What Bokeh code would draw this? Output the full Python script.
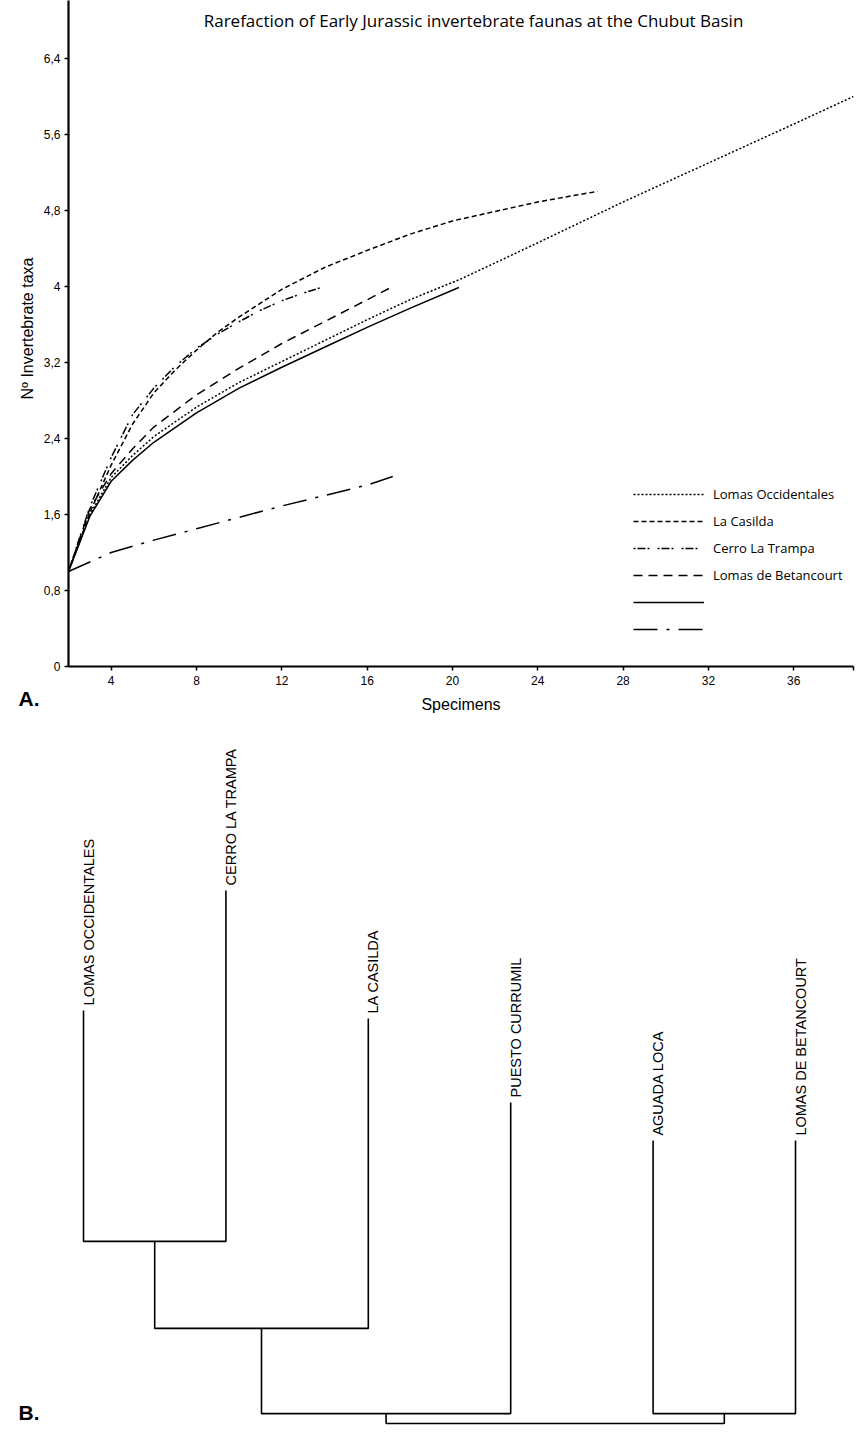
import math
from bokeh.plotting import figure
from bokeh.models import (Range1d, FixedTicker, CustomJSTickFormatter, Legend,
                          LegendItem, Label)
from bokeh.layouts import column, row
from bokeh.embed import file_html
from bokeh.resources import INLINE
from bokeh.core.properties import value

# ---------------- data: rarefaction curves ----------------
lo_x = [2, 3, 4, 5, 6, 8, 10, 12, 14, 16, 18, 20.4, 24, 28, 32, 36, 38.8]
lo_y = [1.0, 1.6, 1.99, 2.22, 2.42, 2.73, 2.99, 3.21, 3.43, 3.65, 3.86, 4.08, 4.46, 4.89, 5.3, 5.71, 6.0]

lc_x = [2, 3, 4, 5, 6, 7, 8, 9, 10, 12, 14, 16, 18, 20, 22, 24, 26, 26.8]
lc_y = [1.0, 1.62, 2.12, 2.55, 2.88, 3.12, 3.33, 3.52, 3.68, 3.97, 4.2, 4.38, 4.55, 4.69, 4.79, 4.89, 4.97, 5.0]

ct_x = [2, 3, 4, 5, 6, 7, 8, 9, 10, 11, 12, 13, 14]
ct_y = [1.0, 1.68, 2.2, 2.65, 2.93, 3.16, 3.35, 3.5, 3.63, 3.75, 3.85, 3.93, 4.0]

lb_x = [2, 3, 4, 5, 6, 8, 10, 12, 14, 16, 17.2]
lb_y = [1.0, 1.66, 2.03, 2.29, 2.52, 2.86, 3.14, 3.4, 3.63, 3.86, 4.0]

so_x = [2, 3, 4, 5, 6, 8, 10, 12, 14, 16, 18, 20.3]
so_y = [1.0, 1.58, 1.95, 2.17, 2.36, 2.67, 2.93, 3.15, 3.36, 3.57, 3.77, 3.99]

dd_x = [2, 3, 4, 6, 8, 10, 12, 14, 16, 17.2]
dd_y = [1.0, 1.1, 1.2, 1.33, 1.45, 1.57, 1.69, 1.8, 1.91, 2.0]

series_names = ["Lomas Occidentales", "La Casilda", "Cerro La Trampa",
                "Lomas de Betancourt", " ", " "]
y_ticks = [0, 0.8, 1.6, 2.4, 3.2, 4.0, 4.8, 5.6, 6.4]
x_ticks = [4, 8, 12, 16, 20, 24, 28, 32, 36]
X_START, X_END = 2, 38.8
Y_END = 7.0105

# ---------------- data: dendrogram ----------------
leaf_names = ["LOMAS OCCIDENTALES", "CERRO LA TRAMPA", "LA CASILDA",
              "PUESTO CURRUMIL", "AGUADA LOCA", "LOMAS DE BETANCOURT"]
leaf_tops = [1.377, 1.777, 1.35, 1.07, 0.943, 0.943]
# (child a, child b, height); ids >= 6 are previous merges
merges = [(0, 1, 0.607), (6, 2, 0.317), (7, 3, 0.033), (4, 5, 0.033), (8, 9, 0.0)]

# ---------------- left strip (y-axis title and panel letter A) ----------------
s = figure(width=40, height=720, output_backend="svg", toolbar_location=None,
           x_range=Range1d(0, 40), y_range=Range1d(0, 720), min_border=0,
           x_axis_location=None, y_axis_location=None, frame_align=False)
s.outline_line_color = None
s.grid.visible = False
s.add_layout(Label(x=27, y=392, x_units="screen", y_units="screen",
                   text="Nº Invertebrate taxa", angle=math.pi / 2,
                   text_align="center", text_baseline="middle",
                   text_font="Liberation Sans", text_font_size="16px",
                   text_color="black"))
s.add_layout(Label(x=18, y=22.5, x_units="screen", y_units="screen", text="A.",
                   text_align="left", text_baseline="middle",
                   text_font="Liberation Sans", text_font_size="21px",
                   text_font_style="bold", text_color="black"))

# ---------------- figure A ----------------
p = figure(width=821, height=720, output_backend="svg", toolbar_location=None,
           x_range=Range1d(X_START, X_END), y_range=Range1d(0, Y_END),
           min_border_left=27, min_border_right=8, min_border_top=0,
           min_border_bottom=54, frame_align=False)
p.outline_line_color = None
p.grid.visible = False

styles = [
    dict(line_dash="2 2"),
    dict(line_dash="5 3"),
    dict(line_dash="2 2 8 2 2 8"),
    dict(line_dash="9 6"),
    dict(line_dash="solid"),
    dict(line_dash="24 9 3 9"),
]
data = [(lo_x, lo_y), (lc_x, lc_y), (ct_x, ct_y), (lb_x, lb_y), (so_x, so_y), (dd_x, dd_y)]
renderers = []
for (xs, ys), st in zip(data, styles):
    r = p.line(xs, ys, line_color="black", line_width=1.5, **st)
    renderers.append(r)

items = [LegendItem(label=n, renderers=[r]) for n, r in zip(series_names, renderers)]
legend = Legend(items=items, location=(565, 27), glyph_width=71, glyph_height=20,
                label_height=20, spacing=7, label_standoff=9, padding=0, margin=0,
                border_line_color=None, background_fill_alpha=0,
                label_text_font="Open Sans", label_text_font_size="13px",
                label_text_color="black")
p.add_layout(legend)

for ax in (p.xaxis[0], p.yaxis[0]):
    ax.axis_line_width = 2.2
    ax.axis_line_color = "black"
    ax.major_tick_line_width = 1.5
    ax.major_tick_line_color = "black"
    ax.major_tick_out = 4
    ax.major_tick_in = 0
    ax.minor_tick_line_color = None
    ax.major_label_text_font = "Liberation Sans"
    ax.major_label_text_font_size = "12px"
    ax.major_label_text_color = "black"
    ax.axis_label_text_font = "Liberation Sans"
    ax.axis_label_text_font_size = "16px"
    ax.axis_label_text_font_style = "normal"
    ax.axis_label_text_color = "black"

p.yaxis.ticker = FixedTicker(ticks=y_ticks)
p.yaxis.formatter = CustomJSTickFormatter(
    code="return (Math.round(tick*10)/10).toString().replace('.', ',');")
p.yaxis.major_label_standoff = 4

p.xaxis.ticker = FixedTicker(ticks=x_ticks + [X_END])
p.xaxis.formatter = CustomJSTickFormatter(
    code="return tick > 37 ? '' : tick.toString();")
p.xaxis.axis_label = "Specimens"
p.xaxis.major_label_standoff = 5
p.xaxis.axis_label_standoff = 8

p.add_layout(Label(x=405, y=646, x_units="screen", y_units="screen",
                   text="Rarefaction of Early Jurassic invertebrate faunas at the Chubut Basin",
                   text_align="center", text_baseline="middle",
                   text_font="Open Sans", text_font_size="17px", text_color="black"))

# ---------------- figure B (dendrogram) ----------------
d = figure(width=861, height=712, output_backend="svg", toolbar_location=None,
           x_range=Range1d(0.41713, 6.46348), y_range=Range1d(-0.03, 2.34333),
           min_border=0, x_axis_location=None, y_axis_location=None,
           frame_align=False)
d.outline_line_color = None
d.grid.visible = False

pos = {i: i + 1 for i in range(len(leaf_names))}
hgt = {i: leaf_tops[i] for i in range(len(leaf_names))}
mxs, mys = [], []
for k, (a, b, h) in enumerate(merges):
    nid = len(leaf_names) + k
    mxs.append([pos[a], pos[a], pos[b], pos[b]])
    mys.append([hgt[a], h, h, hgt[b]])
    pos[nid] = (pos[a] + pos[b]) / 2
    hgt[nid] = h
d.multi_line(mxs, mys, line_color="black", line_width=1.6)

d.text(x=[i + 1 for i in range(len(leaf_names))], y=leaf_tops, text=leaf_names,
       angle=math.pi / 2, text_align="left", text_baseline="middle",
       x_offset=5, y_offset=-5, text_font=value("Liberation Sans"),
       text_font_size="14.5px", text_color="black")

d.add_layout(Label(x=18, y=20.5, x_units="screen", y_units="screen", text="B.",
                   text_align="left", text_baseline="middle",
                   text_font="Liberation Sans", text_font_size="21px",
                   text_font_style="bold", text_color="black"))

layout = column(row(s, p, spacing=0), d, spacing=0)
open("out.html", "w").write(file_html(layout, INLINE))
